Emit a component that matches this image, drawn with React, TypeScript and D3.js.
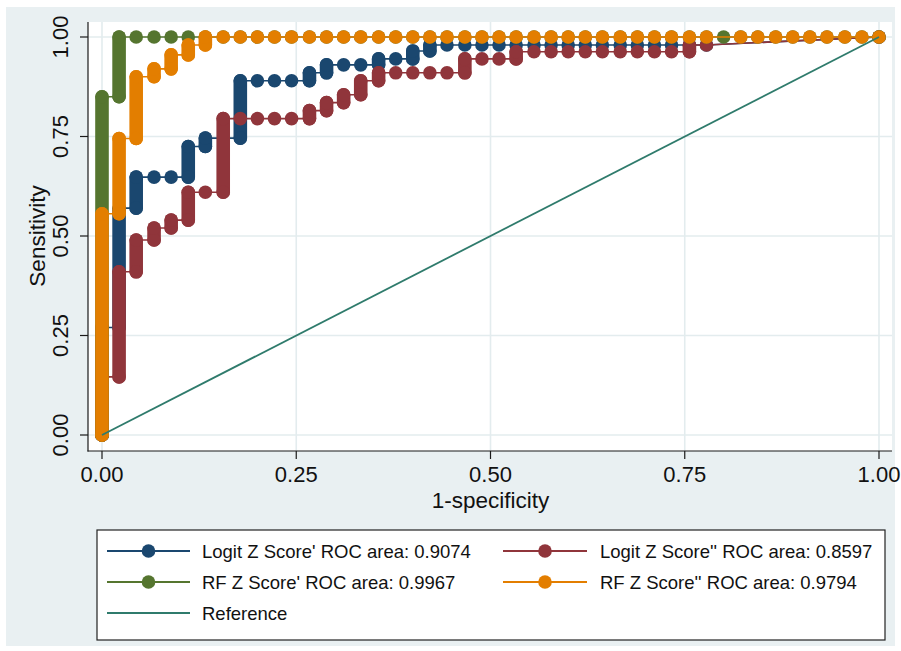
import React from 'react';
import * as d3 from 'd3';

// ROC points [1-specificity, sensitivity]
const logitZ1: [number, number][] = [
  [0, 0], [0, 0.27], [0.022, 0.27], [0.022, 0.57], [0.044, 0.57], [0.044, 0.648],
  [0.067, 0.648], [0.089, 0.648], [0.111, 0.648], [0.111, 0.725], [0.133, 0.725],
  [0.133, 0.746], [0.178, 0.746], [0.178, 0.89], [0.2, 0.89], [0.222, 0.89],
  [0.244, 0.89], [0.267, 0.89], [0.267, 0.91], [0.289, 0.91], [0.289, 0.93],
  [0.311, 0.93], [0.333, 0.93], [0.356, 0.93], [0.356, 0.945], [0.378, 0.945],
  [0.4, 0.945], [0.4, 0.965], [0.422, 0.965], [0.422, 0.98], [0.444, 0.98],
  [0.467, 0.98], [0.489, 0.98], [0.511, 0.98], [0.533, 0.98], [0.556, 0.98],
  [0.578, 0.98], [0.6, 0.98], [0.622, 0.98], [0.644, 0.98], [0.667, 0.98],
  [0.689, 0.98], [0.711, 0.98], [0.733, 0.98], [0.756, 0.98], [0.778, 0.98], [1, 1],
];

const logitZ2: [number, number][] = [
  [0, 0], [0, 0.146], [0.022, 0.146], [0.022, 0.41], [0.044, 0.41], [0.044, 0.49],
  [0.067, 0.49], [0.067, 0.52], [0.089, 0.52], [0.089, 0.54], [0.111, 0.54],
  [0.111, 0.61], [0.133, 0.61], [0.156, 0.61], [0.156, 0.795], [0.178, 0.795],
  [0.2, 0.795], [0.222, 0.795], [0.244, 0.795], [0.267, 0.795], [0.267, 0.815],
  [0.289, 0.815], [0.289, 0.835], [0.311, 0.835], [0.311, 0.855], [0.333, 0.855],
  [0.333, 0.89], [0.356, 0.89], [0.356, 0.91], [0.378, 0.91], [0.4, 0.91],
  [0.422, 0.91], [0.444, 0.91], [0.467, 0.91], [0.467, 0.945], [0.489, 0.945],
  [0.511, 0.945], [0.533, 0.945], [0.533, 0.963], [0.556, 0.963], [0.578, 0.963],
  [0.6, 0.963], [0.622, 0.963], [0.644, 0.963], [0.667, 0.963], [0.689, 0.963],
  [0.711, 0.963], [0.733, 0.963], [0.756, 0.963], [0.756, 0.98], [0.778, 0.98], [1, 1],
];

const rfZ1: [number, number][] = [
  [0, 0], [0, 0.85], [0.022, 0.85], [0.022, 1], [0.044, 1], [0.067, 1], [0.089, 1],
  [0.111, 1], [0.133, 1], [0.156, 1], [0.178, 1], [0.2, 1], [0.222, 1], [0.244, 1],
  [0.267, 1], [0.289, 1], [0.311, 1], [0.333, 1], [0.356, 1], [0.378, 1], [0.4, 1],
  [0.422, 1], [0.444, 1], [0.467, 1], [0.489, 1], [0.511, 1], [0.533, 1], [0.556, 1],
  [0.578, 1], [0.6, 1], [0.622, 1], [0.644, 1], [0.667, 1], [0.689, 1], [0.711, 1],
  [0.733, 1], [0.756, 1], [0.778, 1], [0.8, 1], [0.822, 1], [0.844, 1], [0.867, 1],
  [0.889, 1], [0.911, 1], [0.933, 1], [0.956, 1], [0.978, 1], [1, 1],
];

const rfZ2: [number, number][] = [
  [0, 0], [0, 0.556], [0.022, 0.556], [0.022, 0.745], [0.044, 0.745], [0.044, 0.9],
  [0.067, 0.9], [0.067, 0.92], [0.089, 0.92], [0.089, 0.955], [0.111, 0.955],
  [0.111, 0.98], [0.133, 0.98], [0.133, 1], [0.156, 1], [0.178, 1], [0.2, 1],
  [0.222, 1], [0.244, 1], [0.267, 1], [0.289, 1], [0.311, 1], [0.333, 1], [0.356, 1],
  [0.378, 1], [0.4, 1], [0.422, 1], [0.444, 1], [0.467, 1], [0.489, 1], [0.511, 1],
  [0.533, 1], [0.556, 1], [0.578, 1], [0.6, 1], [0.622, 1], [0.644, 1], [0.667, 1],
  [0.689, 1], [0.711, 1], [0.733, 1], [0.756, 1], [0.778, 1], [0.822, 1], [0.844, 1],
  [0.867, 1], [0.889, 1], [0.911, 1], [0.933, 1], [0.956, 1], [0.978, 1], [1, 1],
];

const reference: [number, number][] = [[0, 0], [1, 1]];

const seriesNames = [
  "Logit Z Score' ROC area: 0.9074",
  "Logit Z Score'' ROC area: 0.8597",
  "RF Z Score' ROC area: 0.9967",
  "RF Z Score'' ROC area: 0.9794",
  'Reference',
];
const seriesColors = ['#1a476f', '#90353b', '#55752f', '#e37e00', '#2f7b6c'];
const tickValues = [0, 0.25, 0.5, 0.75, 1];

const font = '"Liberation Sans", Arial, Helvetica, sans-serif';

export default function App() {
  const width = 901;
  const height = 651;
  const x = d3.scaleLinear().domain([0, 1]).range([102, 879]);
  const y = d3.scaleLinear().domain([0, 1]).range([435, 37]);
  const line = d3.line<[number, number]>().x(d => x(d[0])).y(d => y(d[1]));
  const r = 6.8;

  const curves = [logitZ1, logitZ2, rfZ1, rfZ2];

  const drawCurve = (data: [number, number][], color: string, key: number) => {
    // vertical runs of tied thresholds: drawn as overlapping markers
    const runs: [number, number][][] = [];
    for (let i = 1; i < data.length; i++) {
      if (data[i][0] === data[i - 1][0]) runs.push([data[i - 1], data[i]]);
    }
    return (
      <g key={key}>
        <path d={line(data) || ''} fill="none" stroke={color} strokeWidth={1.6} />
        {runs.map((p, i) => (
          <line key={'r' + i} x1={x(p[0][0])} x2={x(p[1][0])} y1={y(p[0][1])} y2={y(p[1][1])}
            stroke={color} strokeWidth={r * 2} strokeLinecap="round" />
        ))}
        {data.map((d, i) => (
          <circle key={i} cx={x(d[0])} cy={y(d[1])} r={r} fill={color} />
        ))}
      </g>
    );
  };

  const legendRows = [551, 582, 613];
  const legendCols = [{ x1: 107, x2: 190, tx: 202 }, { x1: 503, x2: 587, tx: 600 }];

  return (
    <div style={{ position: 'absolute', left: 0, top: 0 }}>
      <svg width={width} height={height} style={{ display: 'block', fontFamily: font }}>
        <rect x={0} y={0} width={width} height={height} fill="#ffffff" />
        <rect x={6} y={7} width={889} height={639} fill="#e9f0f2" />
        <rect x={88} y={22} width={804} height={429} fill="#ffffff" />

        {/* grid */}
        {tickValues.map(t => (
          <g key={'g' + t}>
            <line x1={88} x2={892} y1={y(t)} y2={y(t)} stroke="#e3ecee" strokeWidth={1.6} />
            <line x1={x(t)} x2={x(t)} y1={22} y2={451} stroke="#e3ecee" strokeWidth={1.6} />
          </g>
        ))}

        {/* axes */}
        <line x1={88} x2={88} y1={22} y2={451.5} stroke="#1a1a1a" strokeWidth={1.2} />
        <line x1={87.5} x2={892} y1={451} y2={451} stroke="#1a1a1a" strokeWidth={1.2} />
        {tickValues.map(t => (
          <g key={'t' + t}>
            <line x1={80} x2={88} y1={y(t)} y2={y(t)} stroke="#1a1a1a" strokeWidth={1.2} />
            <text transform={`translate(68,${y(t)}) rotate(-90)`} textAnchor="middle"
              fontSize={22} fill="#111">{d3.format('.2f')(t)}</text>
            <line x1={x(t)} x2={x(t)} y1={451} y2={459} stroke="#1a1a1a" strokeWidth={1.2} />
            <text x={x(t)} y={482} textAnchor="middle" fontSize={22} fill="#111">{d3.format('.2f')(t)}</text>
          </g>
        ))}
        <text transform={`translate(45,${(y(0) + y(1)) / 2}) rotate(-90)`} textAnchor="middle"
          fontSize={22.5} fill="#111">Sensitivity</text>
        <text x={(x(0) + x(1)) / 2} y={508} textAnchor="middle" fontSize={22.5} fill="#111">1-specificity</text>

        {/* curves */}
        {curves.map((c, i) => drawCurve(c, seriesColors[i], i))}
        <path d={line(reference) || ''} fill="none" stroke={seriesColors[4]} strokeWidth={1.8} />

        {/* legend */}
        <rect x={97} y={530} width={788} height={110} fill="#ffffff" stroke="#222" strokeWidth={1.2} />
        {seriesNames.map((name, i) => {
          const row = legendRows[Math.floor(i / 2)];
          const col = legendCols[i % 2];
          const color = seriesColors[i];
          return (
            <g key={'l' + i}>
              <line x1={col.x1} x2={col.x2} y1={row} y2={row} stroke={color} strokeWidth={2.2} />
              {i < 4 && <circle cx={(col.x1 + col.x2) / 2} cy={row} r={6.8} fill={color} />}
              <text x={col.tx} y={row + 7} fontSize={18.5} fill="#111">{name}</text>
            </g>
          );
        })}
      </svg>
    </div>
  );
}
